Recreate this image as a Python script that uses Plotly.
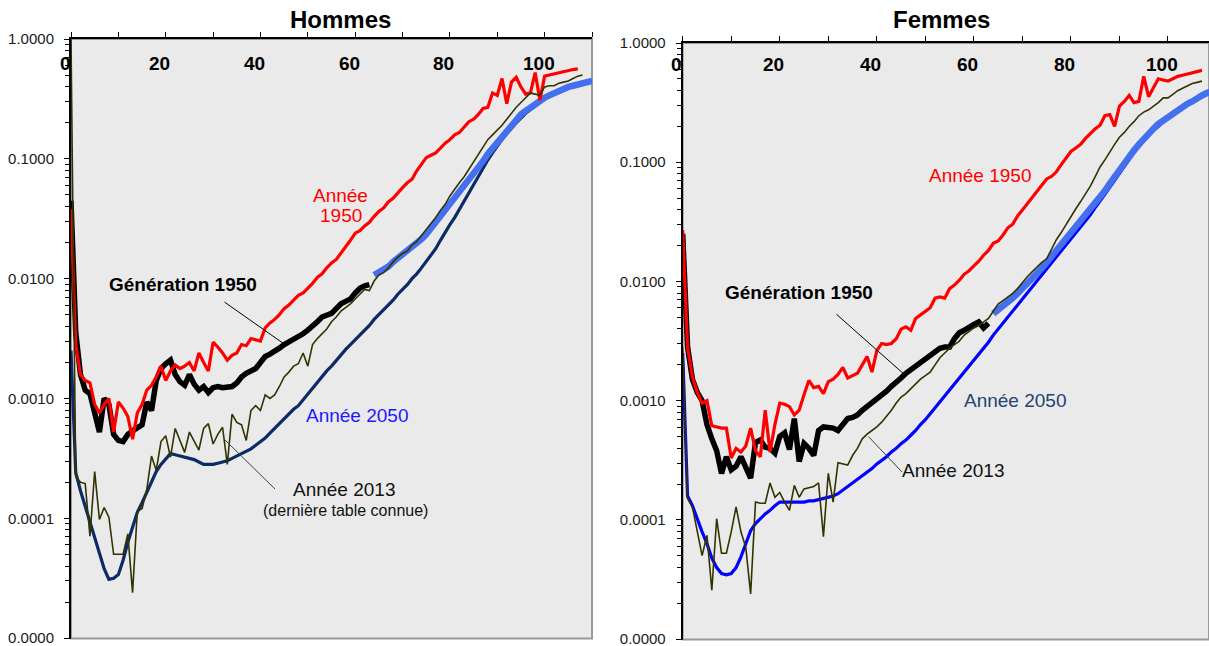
import plotly.graph_objects as go

W, H = 1209, 646

# ---------------- data (log10 of mortality quotient, one value per age) ----------------
ages_m_1950 = list(range(0, 108))
men_1950_log10 = [-1.42,-2.55,-2.80,-2.85,-2.87,-3.05,-3.12,-3.05,-3.00,-3.28,
 -3.03,-3.08,-3.15,-3.34,-3.12,-3.05,-2.93,-2.89,-2.82,-2.73,
 -2.85,-2.77,-2.72,-2.75,-2.73,-2.70,-2.77,-2.62,-2.70,-2.77,
 -2.53,-2.57,-2.62,-2.68,-2.64,-2.62,-2.55,-2.56,-2.50,-2.51,
 -2.52,-2.41,-2.37,-2.34,-2.30,-2.25,-2.22,-2.18,-2.14,-2.12,
 -2.08,-2.04,-1.99,-1.96,-1.91,-1.87,-1.84,-1.79,-1.73,-1.68,
 -1.62,-1.60,-1.56,-1.53,-1.48,-1.44,-1.41,-1.36,-1.33,-1.28,
 -1.24,-1.20,-1.17,-1.10,-1.04,-0.99,-0.97,-0.95,-0.91,-0.87,
 -0.84,-0.80,-0.78,-0.73,-0.69,-0.67,-0.63,-0.58,-0.57,-0.45,
 -0.47,-0.33,-0.54,-0.36,-0.32,-0.40,-0.46,-0.45,-0.28,-0.51,
 -0.31,-0.30,-0.29,-0.28,-0.27,-0.26,-0.255,-0.25]

ages_m_gen = list(range(0, 64))
men_gen1950_log10 = [-1.35,-2.45,-2.80,-2.93,-2.96,-3.10,-3.28,-3.00,-3.05,-3.30,
 -3.35,-3.36,-3.30,-3.27,-3.24,-3.22,-3.03,-3.10,-2.85,-2.75,
 -2.71,-2.68,-2.80,-2.86,-2.89,-2.80,-2.88,-2.93,-2.90,-2.95,
 -2.91,-2.90,-2.91,-2.91,-2.90,-2.87,-2.82,-2.79,-2.77,-2.75,
 -2.70,-2.65,-2.63,-2.61,-2.58,-2.55,-2.53,-2.51,-2.48,-2.46,
 -2.43,-2.40,-2.36,-2.32,-2.30,-2.29,-2.25,-2.21,-2.19,-2.17,
 -2.12,-2.08,-2.06,-2.05]

ages_m_proj = list(range(64, 111))
men_gen1950_proj_log10 = [-1.97,-1.95,-1.92,-1.90,-1.86,-1.83,-1.79,-1.76,-1.73,-1.70,
 -1.67,-1.63,-1.58,-1.54,-1.49,-1.44,-1.39,-1.34,-1.29,-1.24,
 -1.18,-1.13,-1.07,-1.02,-0.96,-0.91,-0.86,-0.81,-0.76,-0.71,
 -0.67,-0.63,-0.60,-0.57,-0.54,-0.51,-0.49,-0.47,-0.45,-0.43,
 -0.42,-0.40,-0.39,-0.38,-0.37,-0.36,-0.35]

ages_m_2050 = list(range(0, 111))
men_2050_log10 = [-2.60,-3.62,-3.77,-3.90,-4.05,-4.18,-4.30,-4.42,-4.51,-4.50,
 -4.47,-4.35,-4.20,-4.07,-3.95,-3.87,-3.78,-3.69,-3.61,-3.55,
 -3.50,-3.46,-3.47,-3.48,-3.49,-3.50,-3.51,-3.53,-3.55,-3.55,
 -3.55,-3.54,-3.53,-3.52,-3.50,-3.48,-3.46,-3.44,-3.42,-3.39,
 -3.36,-3.33,-3.29,-3.25,-3.21,-3.17,-3.13,-3.09,-3.06,-3.01,
 -2.96,-2.91,-2.86,-2.82,-2.77,-2.73,-2.68,-2.64,-2.59,-2.55,
 -2.51,-2.47,-2.43,-2.39,-2.34,-2.30,-2.26,-2.22,-2.18,-2.13,
 -2.09,-2.05,-2.00,-1.96,-1.91,-1.86,-1.81,-1.75,-1.68,-1.61,
 -1.55,-1.49,-1.42,-1.35,-1.28,-1.21,-1.14,-1.07,-1.01,-0.95,
 -0.89,-0.84,-0.79,-0.74,-0.70,-0.66,-0.62,-0.59,-0.56,-0.53,
 -0.50,-0.48,-0.46,-0.44,-0.42,-0.41,-0.39,-0.38,-0.37,-0.36,-0.35]

ages_m_2013 = list(range(0, 109))
men_2013_log10 = [0.0,-3.65,-3.70,-3.71,-4.15,-3.61,-4.01,-3.91,-3.99,-4.30,
 -4.30,-4.30,-4.13,-4.62,-3.94,-3.92,-3.76,-3.48,-3.60,-3.36,
 -3.31,-3.49,-3.25,-3.35,-3.45,-3.28,-3.35,-3.43,-3.25,-3.21,
 -3.38,-3.30,-3.24,-3.55,-3.13,-3.20,-3.22,-3.35,-3.10,-3.06,
 -3.10,-2.97,-3.00,-2.97,-2.90,-2.82,-2.78,-2.73,-2.71,-2.62,
 -2.73,-2.55,-2.50,-2.46,-2.42,-2.36,-2.32,-2.27,-2.24,-2.21,
 -2.17,-2.13,-2.09,-2.10,-2.02,-1.97,-1.95,-1.91,-1.86,-1.82,
 -1.79,-1.77,-1.72,-1.69,-1.64,-1.59,-1.54,-1.49,-1.43,-1.38,
 -1.31,-1.25,-1.20,-1.15,-1.09,-1.03,-0.97,-0.91,-0.84,-0.80,
 -0.76,-0.72,-0.67,-0.62,-0.57,-0.53,-0.49,-0.45,-0.46,-0.47,
 -0.40,-0.39,-0.39,-0.37,-0.36,-0.35,-0.33,-0.31,-0.30]

ages_f_1950 = list(range(0, 108))
women_1950_log10 = [-1.57,-2.55,-2.80,-2.93,-3.02,-3.00,-3.21,-3.22,-3.23,-3.23,
 -3.48,-3.40,-3.43,-3.38,-3.23,-3.42,-3.47,-3.08,-3.43,-3.20,
 -3.02,-3.03,-3.05,-3.12,-3.08,-2.95,-2.83,-2.89,-2.88,-2.94,
 -2.84,-2.82,-2.78,-2.72,-2.81,-2.79,-2.77,-2.70,-2.63,-2.76,
 -2.58,-2.52,-2.53,-2.52,-2.48,-2.40,-2.38,-2.41,-2.31,-2.28,
 -2.25,-2.22,-2.14,-2.13,-2.14,-2.06,-2.03,-1.99,-1.94,-1.91,
 -1.87,-1.83,-1.78,-1.74,-1.68,-1.66,-1.61,-1.55,-1.52,-1.45,
 -1.40,-1.35,-1.29,-1.25,-1.20,-1.14,-1.12,-1.08,-1.02,-0.96,
 -0.91,-0.88,-0.85,-0.80,-0.76,-0.72,-0.69,-0.61,-0.60,-0.70,
 -0.53,-0.49,-0.44,-0.50,-0.49,-0.28,-0.45,-0.38,-0.30,-0.31,
 -0.32,-0.30,-0.28,-0.27,-0.26,-0.25,-0.24,-0.23]

ages_f_gen = list(range(0, 64))
women_gen1950_log10 = [-1.60,-2.55,-2.82,-2.93,-3.00,-3.20,-3.32,-3.42,-3.61,-3.47,
 -3.58,-3.55,-3.47,-3.55,-3.65,-3.35,-3.33,-3.39,-3.40,-3.44,
 -3.30,-3.27,-3.41,-3.15,-3.51,-3.36,-3.40,-3.46,-3.25,-3.22,
 -3.22,-3.23,-3.25,-3.20,-3.15,-3.14,-3.12,-3.08,-3.05,-3.01,
 -2.98,-2.95,-2.92,-2.88,-2.85,-2.81,-2.77,-2.74,-2.71,-2.68,
 -2.65,-2.62,-2.59,-2.56,-2.55,-2.55,-2.48,-2.43,-2.41,-2.38,
 -2.36,-2.34,-2.39,-2.35]

ages_f_proj = list(range(64, 111))
women_gen1950_proj_log10 = [-2.27,-2.24,-2.21,-2.17,-2.14,-2.10,-2.06,-2.02,-1.98,-1.93,
 -1.89,-1.84,-1.79,-1.75,-1.70,-1.66,-1.61,-1.56,-1.51,-1.46,
 -1.41,-1.36,-1.31,-1.24,-1.18,-1.12,-1.06,-1.01,-0.95,-0.90,
 -0.85,-0.80,-0.76,-0.72,-0.68,-0.65,-0.62,-0.59,-0.56,-0.54,
 -0.51,-0.49,-0.46,-0.44,-0.42,-0.40,-0.39]

ages_f_2050 = list(range(0, 111))
women_2050_log10 = [-2.60,-3.80,-3.88,-4.00,-4.10,-4.20,-4.32,-4.40,-4.45,-4.46,
 -4.45,-4.40,-4.31,-4.20,-4.09,-4.03,-3.99,-3.95,-3.92,-3.88,
 -3.85,-3.85,-3.85,-3.85,-3.85,-3.85,-3.84,-3.84,-3.83,-3.82,
 -3.81,-3.80,-3.78,-3.75,-3.72,-3.69,-3.66,-3.63,-3.60,-3.57,
 -3.53,-3.50,-3.47,-3.43,-3.40,-3.36,-3.33,-3.29,-3.25,-3.20,
 -3.16,-3.11,-3.06,-3.01,-2.97,-2.92,-2.87,-2.82,-2.77,-2.72,
 -2.67,-2.62,-2.57,-2.51,-2.45,-2.40,-2.35,-2.29,-2.24,-2.20,
 -2.15,-2.10,-2.05,-2.00,-1.95,-1.90,-1.85,-1.80,-1.75,-1.70,
 -1.65,-1.59,-1.54,-1.49,-1.44,-1.38,-1.33,-1.27,-1.21,-1.15,
 -1.09,-1.03,-0.97,-0.92,-0.87,-0.82,-0.78,-0.73,-0.70,-0.66,
 -0.63,-0.60,-0.57,-0.54,-0.52,-0.49,-0.47,-0.45,-0.43,-0.41,-0.40]

ages_f_2013 = list(range(0, 108))
women_2013_log10 = [-2.55,-3.82,-3.89,-4.10,-4.30,-4.13,-4.59,-3.99,-4.28,-4.28,
 -4.10,-3.89,-4.10,-4.23,-4.62,-3.85,-3.86,-3.86,-3.69,-3.81,
 -3.77,-3.85,-3.92,-3.71,-3.81,-3.74,-3.73,-3.72,-3.69,-4.14,
 -3.61,-3.85,-3.52,-3.53,-3.54,-3.46,-3.40,-3.32,-3.28,-3.25,
 -3.22,-3.18,-3.13,-3.08,-3.02,-2.97,-2.94,-2.90,-2.86,-2.82,
 -2.79,-2.76,-2.70,-2.64,-2.60,-2.56,-2.53,-2.50,-2.45,-2.42,
 -2.39,-2.37,-2.34,-2.31,-2.25,-2.19,-2.16,-2.13,-2.10,-2.06,
 -2.01,-1.96,-1.92,-1.88,-1.84,-1.81,-1.73,-1.65,-1.59,-1.52,
 -1.46,-1.39,-1.33,-1.27,-1.20,-1.12,-1.04,-0.98,-0.91,-0.85,
 -0.79,-0.75,-0.70,-0.66,-0.61,-0.58,-0.56,-0.53,-0.50,-0.46,
 -0.46,-0.43,-0.40,-0.38,-0.36,-0.34,-0.33,-0.32]

y_tick_vals = [1e-5, 1e-4, 1e-3, 1e-2, 1e-1, 1.0]
y_tick_text = ["0.0000", "0.0001", "0.0010", "0.0100", "0.1000", "1.0000"]
x_tick_vals = [0, 10, 20, 30, 40, 50, 60, 70, 80, 90, 100, 110]
x_label_vals = [0, 20, 40, 60, 80, 100]
x_label_text = ["0", "20", "40", "60", "80", "100"]
y_minor_vals = [m * 10 ** e for e in range(-5, 0) for m in range(2, 10)]

panel_titles = ["Hommes", "Femmes"]

# ---------------- styling ----------------
FONT = "Liberation Sans, Arial, sans-serif"
RED = "#ff0000"
BLACK = "#000000"
OLIVE = "#333300"
LIGHTBLUE = "#4470f0"
NAVY = "#0c2a66"
BLUE = "#0000ff"
BG = "#eaeaea"
Y_RANGE = [-5.003, 0.0]  # tiny pad so the 1e-5 tick is not dropped by rounding


def q(vals):
    return [10 ** v for v in vals]


def px(X):
    return X / W


def py(Y):
    return 1 - Y / H


fig = go.Figure()

panels = [
    dict(xa="x", ya="y",
         series=[(ages_m_2050, men_2050_log10, NAVY, 3.2),
                 (ages_m_proj, men_gen1950_proj_log10, LIGHTBLUE, 6.5),
                 (ages_m_gen, men_gen1950_log10, BLACK, 5.5),
                 (ages_m_1950, men_1950_log10, RED, 3.2),
                 (ages_m_2013, men_2013_log10, OLIVE, 1.6)]),
    dict(xa="x2", ya="y2",
         series=[(ages_f_2050, women_2050_log10, BLUE, 3.2),
                 (ages_f_proj, women_gen1950_proj_log10, LIGHTBLUE, 6.5),
                 (ages_f_gen, women_gen1950_log10, BLACK, 5.5),
                 (ages_f_1950, women_1950_log10, RED, 3.2),
                 (ages_f_2013, women_2013_log10, OLIVE, 1.6)]),
]

for p in panels:
    for ages, vals, col, w in p["series"]:
        fig.add_trace(go.Scatter(x=ages, y=q(vals), mode="lines",
                                 line=dict(color=col, width=w),
                                 xaxis=p["xa"], yaxis=p["ya"],
                                 showlegend=False, hoverinfo="skip"))

xdom_m = [px(71), px(592)]
xdom_f = [px(682.7), 1.0]
ydom_m = [py(638.5), py(39)]
ydom_f = [py(639.5), py(43)]

tickfont_y = dict(family=FONT, size=15, color="#1a1a1a")


def xaxis(dom, rng, anchor):
    return dict(domain=dom, range=rng, side="top", anchor=anchor,
                showline=True, linecolor="#000000", linewidth=1.5,
                ticks="outside", ticklen=5, tickwidth=1, tickcolor="#000000",
                tickmode="array", tickvals=x_tick_vals, showticklabels=False,
                showgrid=False, zeroline=False, fixedrange=True, automargin=False)


def yaxis(dom, anchor):
    return dict(domain=dom, type="log", range=Y_RANGE, anchor=anchor,
                showline=True, linecolor="#000000", linewidth=2,
                ticks="outside", ticklen=5, tickwidth=1, tickcolor="#000000",
                tickmode="array", tickvals=y_tick_vals, ticktext=y_tick_text,
                tickfont=tickfont_y, ticklabelstandoff=7, ticklabeloverflow="allow",
                minor=dict(ticks="outside", ticklen=4, tickwidth=1,
                           tickcolor="#000000", tickvals=y_minor_vals),
                showgrid=False, zeroline=False, fixedrange=True, automargin=False)


fig.update_layout(
    width=W, height=H, autosize=False,
    margin=dict(l=0, r=0, t=0, b=0, pad=0, autoexpand=False),
    paper_bgcolor="white",
    plot_bgcolor=BG,
    showlegend=False,
    xaxis=xaxis(xdom_m, [0, 110], "y"),
    yaxis=yaxis(ydom_m, "x"),
    xaxis2=xaxis(xdom_f, [0, 108.45], "y2"),
    yaxis2=yaxis(ydom_f, "x2"),
)

# gray border (right / bottom) of plot areas
for xr, yr in (("x", "y"), ("x2", "y2")):
    fig.add_shape(type="rect", xref=xr + " domain", yref=yr + " domain",
                  x0=0, x1=1, y0=0, y1=1, layer="below",
                  line=dict(color="#9a9a9a", width=2), fillcolor="rgba(0,0,0,0)")

ann = []
# panel titles
ann.append(dict(text="<b>%s</b>" % panel_titles[0], x=px(340), y=py(19), xref="paper", yref="paper",
                showarrow=False, xanchor="center", yanchor="middle",
                font=dict(family=FONT, size=24, color="#000000")))
ann.append(dict(text="<b>%s</b>" % panel_titles[1], x=px(941), y=py(19), xref="paper", yref="paper",
                showarrow=False, xanchor="center", yanchor="middle",
                font=dict(family=FONT, size=24, color="#000000")))

# x tick labels drawn inside the plot area below the top axis
for xr, Yc in (("x", 63), ("x2", 64)):
    for v, t in zip(x_label_vals, x_label_text):
        ann.append(dict(text="<b>%s</b>" % t, x=v, y=py(Yc), xref=xr, yref="paper",
                        showarrow=False, xanchor="center", yanchor="middle", xshift=-6,
                        font=dict(family=FONT, size=19, color="#000000")))


def label(text, X, Y, color, size=19, bold=False):
    t = "<b>%s</b>" % text if bold else text
    ann.append(dict(text=t, x=px(X), y=py(Y), xref="paper", yref="paper",
                    showarrow=False, xanchor="center", yanchor="middle",
                    font=dict(family=FONT, size=size, color=color)))


def leader(X0, Y0, X1, Y1, color):
    ann.append(dict(text="", x=px(X1), y=py(Y1), xref="paper", yref="paper",
                    ax=X0 - X1, ay=Y0 - Y1, axref="pixel", ayref="pixel",
                    showarrow=True, arrowhead=0, arrowwidth=1, arrowcolor=color,
                    standoff=0, startstandoff=0))


# men labels
label("Année", 340.5, 195.5, RED)
label("1950", 340.5, 216, RED)
label("Génération 1950", 183, 284, BLACK, bold=True)
label("Année 2050", 357, 415, "#1a1aff")
label("Année 2013", 344.5, 489, "#111111")
label("(dernière table connue)", 345.5, 510, "#111111", size=16)
leader(223, 301, 287, 346, "#000000")
leader(223, 438, 275, 489, "#404040")

# women labels
label("Année 1950", 980.5, 175, RED)
label("Génération 1950", 799, 292, BLACK, bold=True)
label("Année 2050", 1015.5, 401, "#254372")
label("Année 2013", 953.5, 470, "#111111")
leader(835, 313, 905, 375, "#000000")
leader(867, 435, 902, 472, "#404040")

fig.update_layout(annotations=ann)

pin_page = ("document.body.style.margin='0';document.body.style.padding='0';"
            "document.body.style.overflow='hidden';"
            "var d=document.getElementById('{plot_id}');"
            "d.style.position='fixed';d.style.left='0px';d.style.top='0px';")

fig.write_html("out.html", config={"responsive": False}, post_script=pin_page)
